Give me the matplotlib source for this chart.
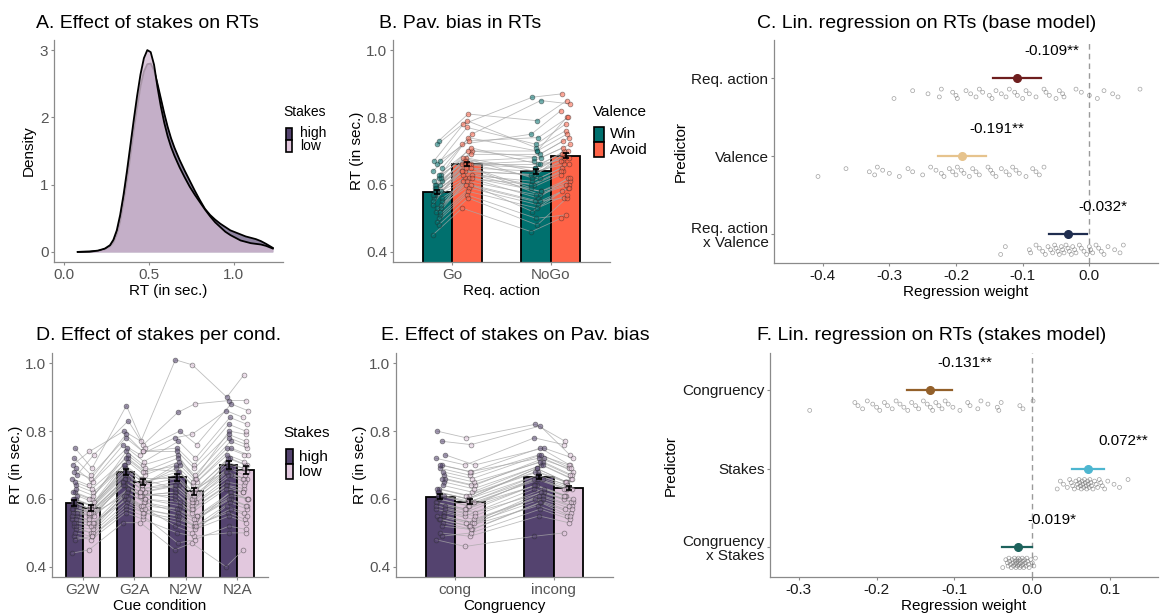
import numpy as np
import matplotlib
matplotlib.use('Agg')
import matplotlib.pyplot as plt
from matplotlib.patches import Rectangle

plt.rcParams['font.family'] = ['Liberation Sans', 'DejaVu Sans']
plt.rcParams['axes.unicode_minus'] = False

W, H = 1160, 614

# ---------------- data ----------------
# A: density of RTs per stakes condition
dens_x = [0.08, 0.15, 0.20, 0.24, 0.27, 0.29, 0.31, 0.33, 0.35, 0.37, 0.39, 0.41, 0.43, 0.45,
          0.47, 0.49, 0.51, 0.53, 0.55, 0.57, 0.59, 0.61, 0.63, 0.65, 0.68, 0.71, 0.74, 0.77,
          0.80, 0.83, 0.86, 0.89, 0.92, 0.95, 0.98, 1.01, 1.04, 1.07, 1.10, 1.13, 1.16, 1.19,
          1.21, 1.23]
dens_low = [0.0, 0.005, 0.02, 0.05, 0.10, 0.18, 0.32, 0.55, 0.85, 1.20, 1.58, 1.96, 2.32, 2.64,
            2.88, 3.00, 2.97, 2.78, 2.45, 2.16, 1.92, 1.72, 1.56, 1.43, 1.26, 1.11, 0.97, 0.85,
            0.74, 0.63, 0.53, 0.44, 0.37, 0.30, 0.25, 0.21, 0.17, 0.15, 0.13, 0.12, 0.11, 0.09,
            0.07, 0.05]
dens_high = [0.0, 0.004, 0.015, 0.04, 0.08, 0.14, 0.26, 0.45, 0.74, 1.06, 1.42, 1.80, 2.15, 2.46,
             2.68, 2.79, 2.80, 2.70, 2.50, 2.28, 2.06, 1.86, 1.69, 1.55, 1.37, 1.21, 1.06, 0.91,
             0.77, 0.64, 0.55, 0.48, 0.42, 0.37, 0.32, 0.29, 0.26, 0.23, 0.21, 0.19, 0.16, 0.12,
             0.09, 0.06]

# B: Pavlovian bias (per subject, conditions Go-Win, Go-Avoid, NoGo-Win, NoGo-Avoid)
b_actions = ['Go', 'NoGo']
b_means = [0.577, 0.660, 0.640, 0.686]
b_ses = [0.006, 0.006, 0.007, 0.007]
go_win = [0.45, 0.58, 0.62, 0.52, 0.67, 0.55, 0.60, 0.49, 0.57, 0.64, 0.53, 0.73, 0.59, 0.56, 0.61,
          0.51, 0.66, 0.58, 0.54, 0.63, 0.48, 0.60, 0.57, 0.65, 0.52, 0.72, 0.59, 0.55, 0.62, 0.50,
          0.58, 0.61, 0.56, 0.67, 0.53, 0.60, 0.57, 0.54, 0.63, 0.59]
go_avoid = [0.53, 0.66, 0.74, 0.60, 0.78, 0.63, 0.66, 0.57, 0.62, 0.72, 0.65, 0.81, 0.68, 0.61, 0.70,
            0.59, 0.77, 0.64, 0.66, 0.69, 0.56, 0.67, 0.63, 0.75, 0.62, 0.79, 0.66, 0.64, 0.71, 0.58,
            0.65, 0.68, 0.62, 0.73, 0.61, 0.67, 0.64, 0.60, 0.70, 0.66]
nogo_win = [0.46, 0.62, 0.70, 0.55, 0.86, 0.58, 0.66, 0.50, 0.60, 0.75, 0.57, 0.79, 0.64, 0.52, 0.68,
            0.54, 0.72, 0.63, 0.59, 0.69, 0.48, 0.65, 0.61, 0.85, 0.56, 0.71, 0.67, 0.60, 0.66, 0.53,
            0.64, 0.62, 0.58, 0.74, 0.57, 0.68, 0.63, 0.55, 0.70, 0.65]
nogo_avoid = [0.50, 0.66, 0.80, 0.56, 0.87, 0.61, 0.70, 0.51, 0.64, 0.82, 0.60, 0.85, 0.69, 0.58, 0.72,
              0.59, 0.78, 0.67, 0.63, 0.74, 0.56, 0.70, 0.65, 0.84, 0.62, 0.76, 0.71, 0.64, 0.68, 0.57,
              0.66, 0.69, 0.62, 0.80, 0.60, 0.73, 0.67, 0.59, 0.75, 0.68]

# C: base model regression
c_predictors = ['Req. action', 'Valence', 'Req. action\nx Valence']
c_est = [-0.109, -0.191, -0.032]
c_lo = [-0.145, -0.227, -0.061]
c_hi = [-0.073, -0.155, -0.003]
c_stars = ['**', '**', '*']
c_req = [-0.293, -0.265, -0.242, -0.225, -0.222, -0.205, -0.200, -0.198, -0.185, -0.178, -0.170,
         -0.165, -0.160, -0.150, -0.146, -0.140, -0.132, -0.125, -0.120, -0.112, -0.108, -0.100,
         -0.095, -0.090, -0.080, -0.068, -0.065, -0.060, -0.050, -0.045, -0.040, -0.038, -0.020,
         -0.012, 0.000, 0.012, 0.022, 0.035, 0.043, 0.076]
c_val = [-0.407, -0.365, -0.330, -0.322, -0.318, -0.310, -0.300, -0.285, -0.272, -0.265, -0.250,
         -0.238, -0.230, -0.222, -0.218, -0.210, -0.205, -0.200, -0.198, -0.192, -0.188, -0.180,
         -0.175, -0.170, -0.165, -0.152, -0.148, -0.145, -0.140, -0.132, -0.125, -0.120, -0.115,
         -0.110, -0.105, -0.095, -0.085, -0.080, -0.075, -0.068]
c_int = [-0.133, -0.126, -0.090, -0.088, -0.080, -0.075, -0.070, -0.066, -0.062, -0.058, -0.055,
         -0.052, -0.050, -0.047, -0.045, -0.042, -0.040, -0.038, -0.035, -0.032, -0.030, -0.027,
         -0.025, -0.022, -0.020, -0.015, -0.012, -0.008, -0.004, 0.000, 0.002, 0.005, 0.010,
         0.014, 0.018, 0.022, 0.028, 0.038, 0.046, 0.051]

# D: stakes per cue condition
d_cues = ['G2W', 'G2A', 'N2W', 'N2A']
d_means = [0.588, 0.573, 0.679, 0.650, 0.664, 0.623, 0.700, 0.685]
d_ses = [0.008, 0.008, 0.009, 0.008, 0.010, 0.010, 0.011, 0.011]
g2w_high = [0.44, 0.58, 0.62, 0.52, 0.70, 0.55, 0.60, 0.49, 0.57, 0.66, 0.53, 0.75, 0.59, 0.56, 0.61,
            0.51, 0.68, 0.58, 0.54, 0.64, 0.48, 0.60, 0.57, 0.67, 0.52, 0.72, 0.59, 0.55, 0.63, 0.50,
            0.58, 0.62, 0.56, 0.69, 0.53, 0.60, 0.57, 0.54, 0.65, 0.59]
g2w_low = [0.45, 0.56, 0.60, 0.50, 0.74, 0.53, 0.58, 0.48, 0.55, 0.64, 0.52, 0.69, 0.57, 0.55, 0.59,
           0.50, 0.66, 0.56, 0.53, 0.62, 0.49, 0.58, 0.56, 0.73, 0.51, 0.67, 0.57, 0.54, 0.61, 0.49,
           0.56, 0.60, 0.55, 0.65, 0.52, 0.58, 0.56, 0.53, 0.63, 0.57]
g2a_high = [0.53, 0.66, 0.74, 0.60, 0.80, 0.63, 0.68, 0.56, 0.64, 0.76, 0.62, 0.875, 0.70, 0.61, 0.72,
            0.59, 0.79, 0.66, 0.65, 0.71, 0.57, 0.69, 0.64, 0.83, 0.62, 0.78, 0.68, 0.64, 0.73, 0.58,
            0.66, 0.70, 0.63, 0.75, 0.61, 0.68, 0.65, 0.60, 0.72, 0.67]
g2a_low = [0.53, 0.62, 0.70, 0.57, 0.77, 0.60, 0.65, 0.54, 0.61, 0.73, 0.59, 0.76, 0.66, 0.58, 0.68,
           0.56, 0.74, 0.63, 0.62, 0.67, 0.55, 0.65, 0.61, 0.75, 0.59, 0.74, 0.64, 0.61, 0.69, 0.56,
           0.63, 0.66, 0.60, 0.71, 0.58, 0.64, 0.62, 0.57, 0.68, 0.64]
n2w_high = [0.45, 0.64, 0.73, 0.55, 1.01, 0.58, 0.68, 0.50, 0.62, 0.78, 0.57, 0.855, 0.66, 0.52, 0.70,
            0.54, 0.75, 0.64, 0.60, 0.71, 0.47, 0.67, 0.62, 0.80, 0.56, 0.74, 0.69, 0.61, 0.68, 0.53,
            0.65, 0.63, 0.59, 0.77, 0.57, 0.70, 0.64, 0.55, 0.72, 0.66]
n2w_low = [0.47, 0.59, 0.66, 0.52, 0.995, 0.55, 0.63, 0.49, 0.57, 0.79, 0.54, 0.88, 0.62, 0.50, 0.65,
           0.52, 0.70, 0.59, 0.56, 0.66, 0.48, 0.62, 0.58, 0.76, 0.53, 0.69, 0.64, 0.57, 0.63, 0.51,
           0.60, 0.59, 0.55, 0.72, 0.54, 0.65, 0.60, 0.52, 0.67, 0.61]
n2a_high = [0.40, 0.67, 0.80, 0.56, 0.90, 0.61, 0.72, 0.50, 0.64, 0.86, 0.60, 0.89, 0.70, 0.58, 0.75,
            0.59, 0.82, 0.68, 0.63, 0.77, 0.52, 0.72, 0.65, 0.88, 0.62, 0.79, 0.73, 0.64, 0.69, 0.55,
            0.67, 0.71, 0.62, 0.84, 0.60, 0.75, 0.68, 0.57, 0.78, 0.69]
n2a_low = [0.45, 0.66, 0.79, 0.54, 0.965, 0.60, 0.70, 0.50, 0.63, 0.84, 0.58, 0.89, 0.69, 0.56, 0.73,
           0.57, 0.80, 0.66, 0.62, 0.75, 0.51, 0.70, 0.64, 0.86, 0.60, 0.77, 0.71, 0.62, 0.68, 0.53,
           0.65, 0.69, 0.60, 0.82, 0.58, 0.73, 0.66, 0.55, 0.76, 0.67]

# E: stakes x congruency
e_cong = ['cong', 'incong']
e_means = [0.607, 0.592, 0.665, 0.633]
e_ses = [0.007, 0.007, 0.007, 0.006]
cong_high = [0.48, 0.61, 0.70, 0.54, 0.80, 0.58, 0.64, 0.50, 0.60, 0.72, 0.56, 0.77, 0.63, 0.55, 0.66,
             0.53, 0.69, 0.61, 0.57, 0.67, 0.49, 0.62, 0.59, 0.73, 0.55, 0.70, 0.62, 0.58, 0.65, 0.52,
             0.60, 0.63, 0.57, 0.68, 0.54, 0.62, 0.59, 0.55, 0.66, 0.61]
cong_low = [0.46, 0.59, 0.68, 0.52, 0.78, 0.56, 0.62, 0.49, 0.58, 0.70, 0.54, 0.76, 0.61, 0.53, 0.64,
            0.51, 0.67, 0.59, 0.55, 0.65, 0.50, 0.60, 0.57, 0.70, 0.53, 0.68, 0.60, 0.56, 0.63, 0.51,
            0.58, 0.61, 0.55, 0.66, 0.52, 0.60, 0.57, 0.53, 0.64, 0.59]
incong_high = [0.49, 0.66, 0.75, 0.58, 0.82, 0.62, 0.70, 0.55, 0.64, 0.78, 0.61, 0.815, 0.68, 0.60, 0.72,
               0.59, 0.73, 0.66, 0.63, 0.71, 0.57, 0.67, 0.64, 0.75, 0.62, 0.72, 0.69, 0.64, 0.70, 0.59,
               0.66, 0.68, 0.63, 0.73, 0.61, 0.69, 0.66, 0.60, 0.71, 0.67]
incong_low = [0.50, 0.63, 0.70, 0.55, 0.77, 0.59, 0.66, 0.53, 0.61, 0.76, 0.58, 0.73, 0.65, 0.57, 0.68,
              0.56, 0.70, 0.63, 0.60, 0.67, 0.54, 0.64, 0.61, 0.72, 0.59, 0.69, 0.65, 0.61, 0.66, 0.55,
              0.63, 0.65, 0.60, 0.69, 0.58, 0.65, 0.63, 0.57, 0.67, 0.64]

# F: stakes model regression
f_predictors = ['Congruency', 'Stakes', 'Congruency\nx Stakes']
f_est = [-0.131, 0.072, -0.019]
f_lo = [-0.1615, 0.0513, -0.0385]
f_hi = [-0.103, 0.0919, -0.0009]
f_stars = ['**', '**', '*']
f_cong = [-0.286, -0.228, -0.224, -0.218, -0.212, -0.205, -0.200, -0.196, -0.190, -0.186, -0.180,
          -0.175, -0.170, -0.165, -0.160, -0.155, -0.150, -0.146, -0.140, -0.135, -0.131, -0.128,
          -0.124, -0.120, -0.116, -0.112, -0.108, -0.102, -0.093, -0.083, -0.080, -0.070, -0.066,
          -0.057, -0.045, -0.043, -0.040, -0.016, -0.012, 0.001]
f_stk = [0.032, 0.036, 0.040, 0.045, 0.048, 0.050, 0.052, 0.054, 0.056, 0.058, 0.059, 0.060, 0.061,
         0.062, 0.063, 0.064, 0.065, 0.066, 0.067, 0.068, 0.069, 0.070, 0.071, 0.072, 0.073, 0.074,
         0.075, 0.076, 0.078, 0.080, 0.082, 0.084, 0.086, 0.088, 0.090, 0.093, 0.097, 0.105, 0.112,
         0.123]
f_int = [-0.038, -0.034, -0.032, -0.031, -0.030, -0.029, -0.028, -0.027, -0.026, -0.025, -0.024,
         -0.023, -0.022, -0.022, -0.021, -0.020, -0.020, -0.019, -0.018, -0.018, -0.017, -0.016,
         -0.016, -0.015, -0.014, -0.013, -0.012, -0.012, -0.011, -0.010, -0.009, -0.008, -0.007,
         -0.006, -0.005, -0.004, -0.002, 0.000, 0.002, 0.004]

HIGH = '#54436F'
LOW = '#E2C8DE'
WIN = '#00706E'
AVOID = '#FF6347'
GRAY_TXT = '#555555'

fig = plt.figure(figsize=(W / 100, H / 100), dpi=100)


def make_ax(left, top, right, bottom, tick_col=GRAY_TXT):
    ax = fig.add_axes([left / W, 1 - bottom / H, (right - left) / W, (bottom - top) / H])
    for s in ['top', 'right']:
        ax.spines[s].set_visible(False)
    for s in ['left', 'bottom']:
        ax.spines[s].set_color('#8a8a8a')
        ax.spines[s].set_linewidth(0.9)
    ax.tick_params(length=2.5, width=0.8, color='#8a8a8a', labelsize=11, pad=1.5,
                   labelcolor=tick_col)
    ax.patch.set_alpha(0)
    return ax


def title(px, py, txt):
    fig.text(px / W, 1 - py / H, txt, ha='left', va='baseline', fontsize=14)


def legend(ttl, tx, ty, labels, colors, kx, ky0, kw, kh, lx, fs):
    fig.text(tx / W, 1 - ty / H, ttl, ha='left', va='center', fontsize=fs)
    for i, (lab, c) in enumerate(zip(labels, colors)):
        top = ky0 + i * kh
        fig.add_artist(Rectangle((kx / W, 1 - (top + kh) / H), kw / W, kh / H,
                                 transform=fig.transFigure, facecolor=c,
                                 edgecolor='black', lw=1.2))
        fig.text(lx / W, 1 - (top + kh / 2) / H, lab, ha='left', va='center', fontsize=fs)


def bar_panel(ax, xpos, means, ses, subj, fills, width):
    n = len(subj[0])
    jit = ((np.arange(n) * 7) % 9 - 4) * 0.012
    ax.bar(xpos, means, width=width, color=fills, edgecolor='black', linewidth=1.3, zorder=1)
    vals = np.array(subj)
    xs = np.array(xpos)[:, None] + jit[None, :]
    ax.plot(xs, vals, color='#a8a8a8', lw=0.6, alpha=0.75, zorder=2)
    for i in range(len(xpos)):
        ax.scatter(xs[i], vals[i], s=12, facecolor=fills[i], edgecolor='#2a2a2a',
                   linewidth=0.5, alpha=0.55, zorder=3)
    ax.errorbar(xpos, means, yerr=ses, fmt='none', ecolor='black', elinewidth=1.2,
                capsize=2.5, capthick=1.2, zorder=4)
    ax.set_ylim(0.37, 1.03)
    ax.set_yticks([0.4, 0.6, 0.8, 1.0])
    ax.set_ylabel('RT (in sec.)', fontsize=11, labelpad=2)


def reg_panel(ax, est, lo, hi, subj, colors, stars, names):
    ypos = np.arange(len(est))[::-1] + 1.0
    ax.axvline(0, color='#9a9a9a', lw=1, ls=(0, (4, 3)), zorder=1)
    for k in range(len(est)):
        n = len(subj[k])
        yoff = -0.2 + ((np.arange(n) * 5) % 7 - 3) * 0.02
        ax.scatter(subj[k], ypos[k] + yoff, s=8, facecolor='none', edgecolor='#707070',
                   linewidth=0.5, alpha=0.65, zorder=2)
        ax.plot([lo[k], hi[k]], [ypos[k], ypos[k]], color=colors[k], lw=1.6, zorder=3)
        ax.plot(est[k], ypos[k], 'o', color=colors[k], ms=5.5, zorder=4)
        ax.annotate(f'{est[k]:.3f}{stars[k]}', (est[k], ypos[k]), xytext=(25, 19.5),
                    textcoords='offset points', ha='center', va='center', fontsize=11)
    ax.set_yticks(ypos)
    ax.set_yticklabels(names, linespacing=1.05)
    ax.set_ylabel('Predictor', fontsize=11, labelpad=3)
    ax.set_xlabel('Regression weight', fontsize=11, labelpad=1.5)


# ---- A ----
axA = make_ax(54, 40, 283, 262)
axA.fill_between(dens_x, dens_high, color=HIGH, alpha=0.65, lw=0, zorder=1)
axA.plot(dens_x, dens_high, color='black', lw=1.3, zorder=2)
axA.fill_between(dens_x, dens_low, color='#D2BBD2', alpha=0.8, lw=0, zorder=3)
axA.plot(dens_x, dens_low, color='black', lw=1.3, zorder=4)
axA.set_xlim(-0.06, 1.29)
axA.set_ylim(-0.15, 3.15)
axA.set_xticks([0.0, 0.5, 1.0])
axA.set_yticks([0, 1, 2, 3])
axA.set_xlabel('RT (in sec.)', fontsize=11, labelpad=1.5)
axA.set_ylabel('Density', fontsize=11, labelpad=3)
title(36, 28, 'A. Effect of stakes on RTs')
legend('Stakes', 283, 112, ['high', 'low'], [HIGH, LOW], 286, 127.5, 6, 12, 300, 10)

# ---- B ----
axB = make_ax(393, 40, 610, 262)
bx = [1 - 0.15, 1 + 0.15, 2 - 0.15, 2 + 0.15]
bar_panel(axB, bx, b_means, b_ses, [go_win, go_avoid, nogo_win, nogo_avoid],
          [WIN, AVOID, WIN, AVOID], 0.3)
axB.set_xlim(0.4, 2.6)
axB.set_xticks([1, 2])
axB.set_xticklabels(b_actions)
axB.set_xlabel('Req. action', fontsize=11, labelpad=1.5)
title(379, 28, 'B. Pav. bias in RTs')
legend('Valence', 593, 112, ['Win', 'Avoid'], [WIN, AVOID], 594, 127, 10, 15, 610, 11)

# ---- C ----
axC = make_ax(774, 40, 1158, 263, tick_col='#1a1a1a')
reg_panel(axC, c_est, c_lo, c_hi, [c_req, c_val, c_int],
          ['#6E1E1E', '#E6C38D', '#1F2D4F'], c_stars, c_predictors)
axC.set_xlim(-0.473, 0.103)
axC.set_ylim(0.63, 3.49)
axC.set_xticks([-0.4, -0.3, -0.2, -0.1, 0.0])
axC.set_xticklabels(['-0.4', '-0.3', '-0.2', '-0.1', '0.0'])
title(757, 28, 'C. Lin. regression on RTs (base model)')

# ---- D ----
axD = make_ax(52, 353, 268, 577)
dx = []
for c in range(len(d_cues)):
    dx += [c + 1 - 0.165, c + 1 + 0.165]
bar_panel(axD, dx, d_means, d_ses,
          [g2w_high, g2w_low, g2a_high, g2a_low, n2w_high, n2w_low, n2a_high, n2a_low],
          [HIGH, LOW] * 4, 0.33)
axD.set_xlim(0.4, 4.6)
axD.set_xticks(np.arange(len(d_cues)) + 1)
axD.set_xticklabels(d_cues)
axD.set_xlabel('Cue condition', fontsize=11, labelpad=1.5)
title(36, 340, 'D. Effect of stakes per cond.')
legend('Stakes', 283, 433, ['high', 'low'], [HIGH, LOW], 286, 449, 7, 15, 299, 11)

# ---- E ----
axE = make_ax(396, 353, 613, 577)
ex = [1 - 0.15, 1 + 0.15, 2 - 0.15, 2 + 0.15]
bar_panel(axE, ex, e_means, e_ses, [cong_high, cong_low, incong_high, incong_low],
          [HIGH, LOW, HIGH, LOW], 0.3)
axE.set_xlim(0.4, 2.6)
axE.set_xticks([1, 2])
axE.set_xticklabels(e_cong)
axE.set_xlabel('Congruency', fontsize=11, labelpad=1.5)
title(381, 340, 'E. Effect of stakes on Pav. bias')

# ---- F ----
axF = make_ax(770, 353, 1158, 577, tick_col='#1a1a1a')
reg_panel(axF, f_est, f_lo, f_hi, [f_cong, f_stk, f_int],
          ['#93602A', '#4DB6D0', '#1D625C'], f_stars, f_predictors)
axF.set_xlim(-0.337, 0.1615)
axF.set_ylim(0.62, 3.47)
axF.set_xticks([-0.3, -0.2, -0.1, 0.0, 0.1])
axF.set_xticklabels(['-0.3', '-0.2', '-0.1', '0.0', '0.1'])
title(757, 340, 'F. Lin. regression on RTs (stakes model)')

fig.savefig('out.png', dpi=100)
